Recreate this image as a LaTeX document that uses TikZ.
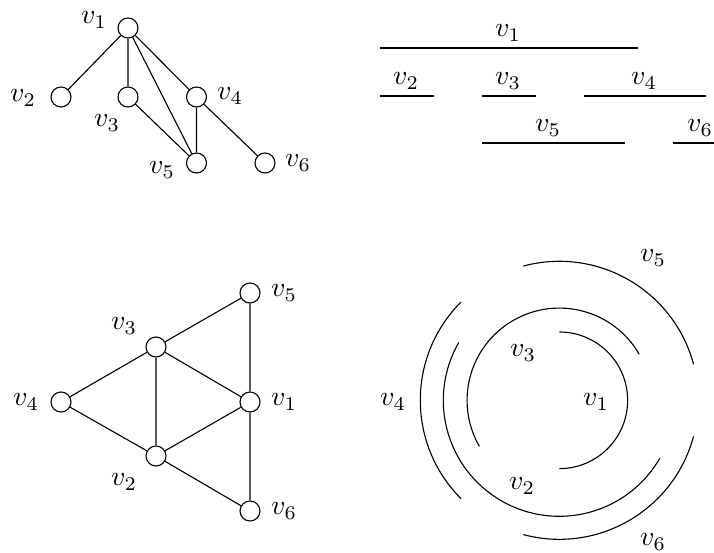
\documentclass[tikz,border=0pt]{standalone}
\begin{document}
\begin{tikzpicture}[x=0.36pt,y=-0.36pt,
  vtx/.style={draw,circle,minimum size=7.2pt,inner sep=0pt},
  lbl/.style={inner sep=0pt},
  every path/.style={line width=0.4pt}]
\useasboundingbox (0,0) rectangle (714,552);
% top-left graph
\node[vtx] (a1) at (128,28) {};
\node[vtx] (a2) at (61,97) {};
\node[vtx] (a3) at (128,97) {};
\node[vtx] (a4) at (196.5,97) {};
\node[vtx] (a5) at (196.5,163) {};
\node[vtx] (a6) at (265,163) {};
\node[lbl] (la1) at (94,20) {$v_1$};
\node[lbl] (la2) at (23,98) {$v_2$};
\node[lbl] (la3) at (107,123) {$v_3$};
\node[lbl] (la4) at (230,96) {$v_4$};
\node[lbl] (la5) at (162,170) {$v_5$};
\node[lbl] (la6) at (298,163) {$v_6$};
\draw (a1) -- (a2) (a1) -- (a3) (a1) -- (a5) (a1) -- (a4)
      (a3) -- (a5) (a4) -- (a5) (a4) -- (a6);
% top-right intervals
\draw (380,48) -- (638,48);
\draw (380,96) -- (434,96);
\draw (482,96) -- (536,96);
\draw (584,96) -- (706,96);
\draw (482,143) -- (625,143);
\draw (673,143) -- (714,143);
\node[lbl] (lb1) at (508,33) {$v_1$};
\node[lbl] (lb2) at (406,81) {$v_2$};
\node[lbl] (lb3) at (508,81) {$v_3$};
\node[lbl] (lb4) at (644,81) {$v_4$};
\node[lbl] (lb5) at (548,128) {$v_5$};
\node[lbl] (lb6) at (700,128) {$v_6$};
% bottom-left graph
\node[vtx] (c5) at (250,293) {};
\node[vtx] (c3) at (156,347) {};
\node[vtx] (c4) at (61,402) {};
\node[vtx] (c1) at (250,402) {};
\node[vtx] (c2) at (156,456) {};
\node[vtx] (c6) at (250,511) {};
\node[lbl] (lc5) at (284,293) {$v_5$};
\node[lbl] (lc3) at (124,326) {$v_3$};
\node[lbl] (lc4) at (26,402) {$v_4$};
\node[lbl] (lc1) at (284,402) {$v_1$};
\node[lbl] (lc2) at (124,482) {$v_2$};
\node[lbl] (lc6) at (284,511) {$v_6$};
\draw (c3) -- (c5) (c5) -- (c1) (c3) -- (c4) (c3) -- (c1) (c3) -- (c2)
      (c4) -- (c2) (c2) -- (c1) (c1) -- (c6) (c2) -- (c6);
% bottom-right arcs
\coordinate (o) at (559.3,400.3);
\draw (o) ++(90:24.6pt) arc[start angle=90, end angle=-90, radius=24.6pt];
\draw (o) ++(30:33.2pt) arc[start angle=30, end angle=210, radius=33.2pt];
\draw (o) ++(150:41.76pt) arc[start angle=150, end angle=330, radius=41.76pt];
\draw (o) ++(135:50.04pt) arc[start angle=135, end angle=225, radius=50.04pt];
\draw (o) ++(15:50.04pt) arc[start angle=15, end angle=105, radius=50.04pt];
\draw (o) ++(-105:50.04pt) arc[start angle=-105, end angle=-15, radius=50.04pt];
\node[lbl] (ld5) at (653,258) {$v_5$};
\node[lbl] (ld3) at (523,353) {$v_3$};
\node[lbl] (ld4) at (393,402) {$v_4$};
\node[lbl] (ld1) at (596,402) {$v_1$};
\node[lbl] (ld2) at (522,486) {$v_2$};
\node[lbl] (ld6) at (653,542) {$v_6$};
\end{tikzpicture}
\end{document}
